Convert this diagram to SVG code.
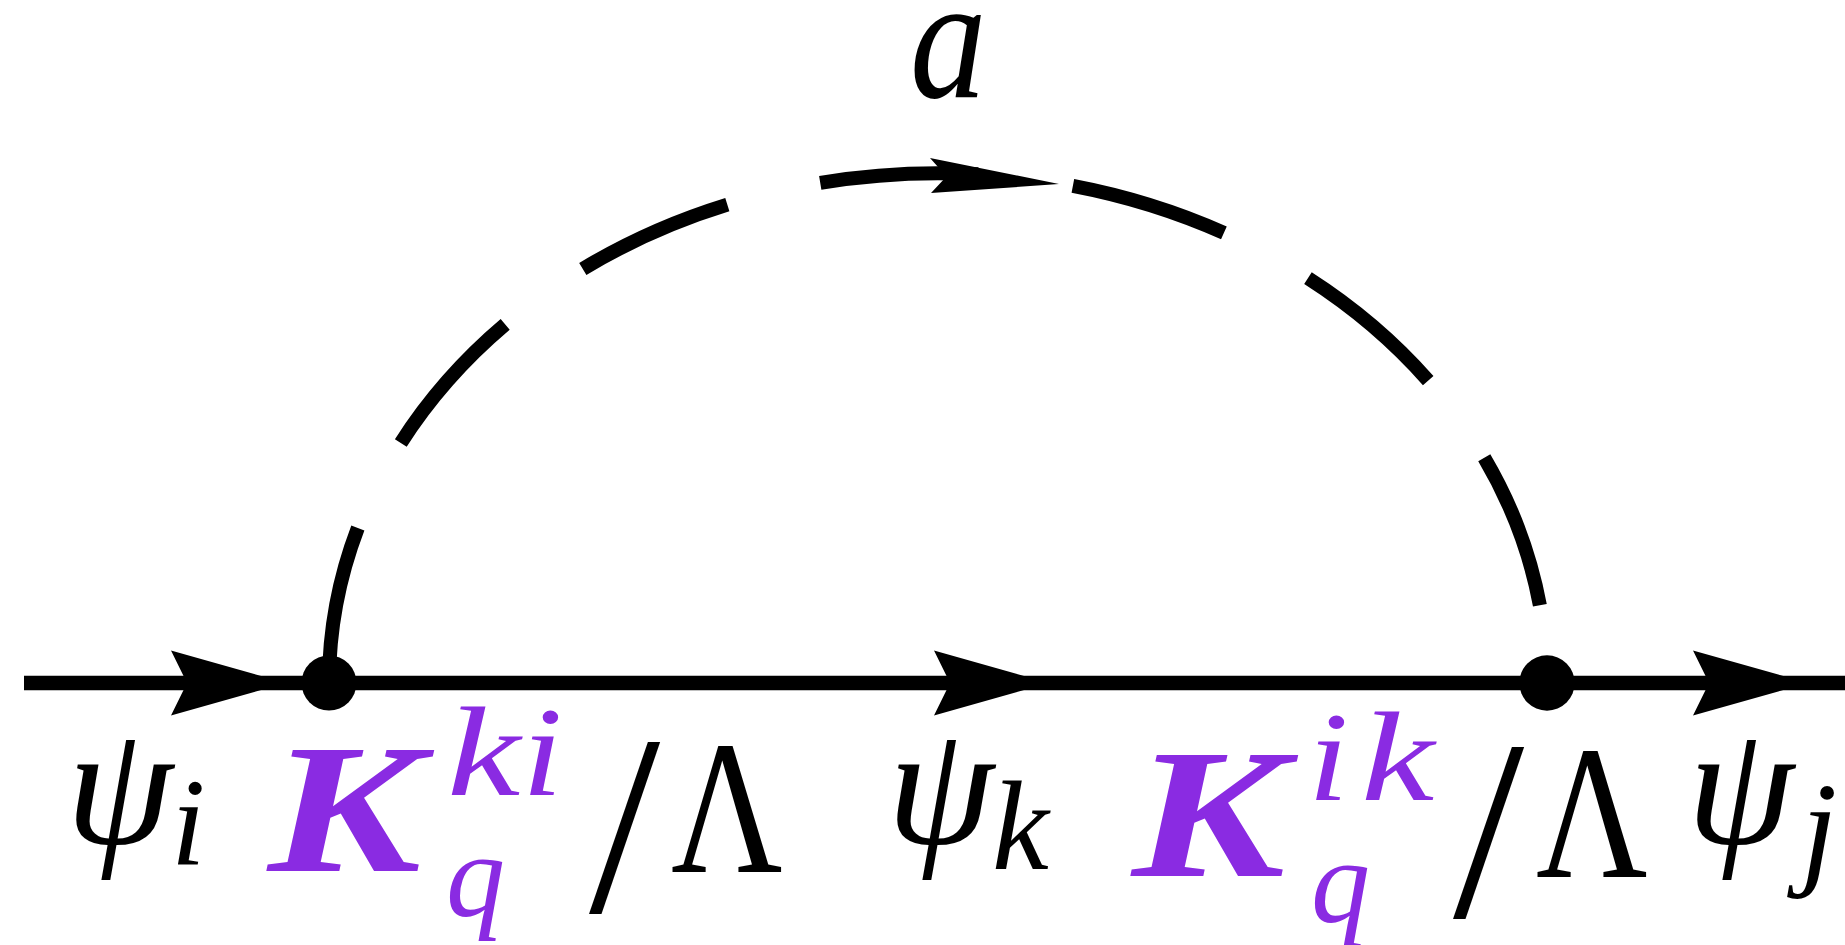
<svg xmlns="http://www.w3.org/2000/svg" width="1845" height="945" viewBox="0 0 1845 945">
<style>
.ln{stroke:#000;stroke-width:14.7;fill:none}
.dash{stroke:#000;stroke-width:14;fill:none;stroke-dasharray:158.5 95.5}
.m{font-family:"Liberation Serif","Times New Roman",serif;font-style:italic;fill:#000}
.p{fill:#8A2BE2}
.up{font-style:normal}
.b{font-weight:bold}
</style>
<defs><path id="arr" d="M0,0 L-115,-32.5 L-99,0 L-115,32.5 Z"/></defs>
<rect width="1845" height="945" fill="#fff"/>
<g id="connectors">
<line class="ln" x1="24" y1="683" x2="1845" y2="683"/>
<path class="dash" d="M329,683 A609,510 0 0 1 1547,683"/>
<use href="#arr" x="286" y="683"/>
<use href="#arr" x="1049" y="683"/>
<use href="#arr" x="1808" y="683"/>
<path d="M930,158 L1059,184 L931,193 L946.5,176.6 Z"/>
</g>
<g id="vertex1"><circle cx="329" cy="683" r="27.5"/></g>
<g id="vertex2"><circle cx="1547" cy="683" r="27.7"/></g>
<g id="label-a"><text class="m" transform="translate(910,97) scale(0.87,1)" font-size="176">a</text></g>
<g id="label-left">
<text class="m" x="66" y="843" font-size="172">ψ</text>
<text class="m" x="171" y="865" font-size="124">i</text>
<text class="m p b" transform="translate(268,871) scale(1.25,1)" font-size="184">K</text>
<text class="m p" transform="translate(447,795) scale(1.3,1)" font-size="127">k</text>
<text class="m p" transform="translate(522,795) scale(1.15,1)" font-size="127">i</text>
<text class="m p" x="446" y="916" font-size="118">q</text>
<text class="m up" x="589" y="912" font-size="256">/</text>
<text class="m up" transform="translate(671,872) scale(0.81,1)" font-size="190">Λ</text>
</g>
<g id="label-mid">
<text class="m" x="887" y="843" font-size="172">ψ</text>
<text class="m" x="992" y="869" font-size="128">k</text>
<text class="m p b" transform="translate(1132,876) scale(1.25,1)" font-size="184">K</text>
<text class="m p" transform="translate(1308,800) scale(1.15,1)" font-size="127">i</text>
<text class="m p" transform="translate(1361,800) scale(1.3,1)" font-size="127">k</text>
<text class="m p" x="1311" y="922" font-size="118">q</text>
<text class="m up" x="1453" y="917" font-size="256">/</text>
<text class="m up" transform="translate(1536,877) scale(0.81,1)" font-size="190">Λ</text>
</g>
<g id="label-right">
<text class="m" x="1687" y="843" font-size="172">ψ</text>
<text class="m" x="1801" y="871" font-size="130">j</text>
</g>
</svg>
